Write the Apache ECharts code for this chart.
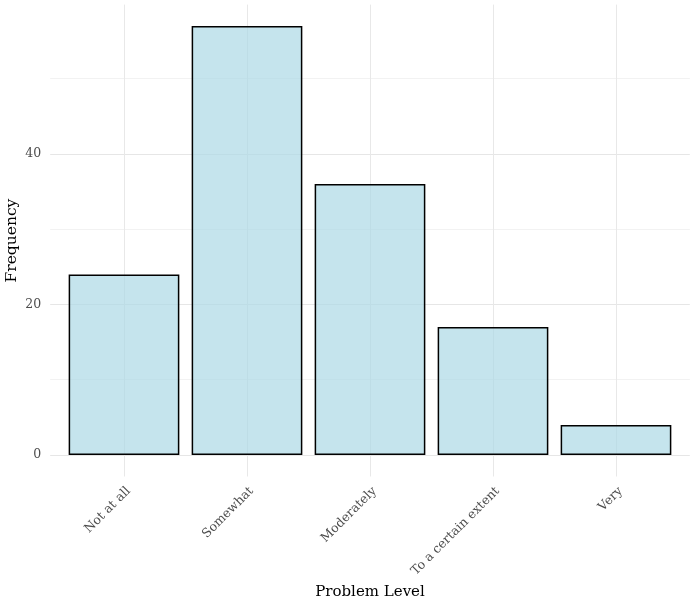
<!DOCTYPE html>
<html>
<head>
<meta charset="utf-8">
<script src="https://cdn.jsdelivr.net/npm/echarts@6/dist/echarts.min.js"></script>
<style>html,body{margin:0;padding:0;background:#fff;}#c{width:692px;height:601px;}</style>
</head>
<body>
<div id="c"></div>
<script>
const categories = ['Not at all', 'Somewhat', 'Moderately', 'To a certain extent', 'Very'];
const frequency = [24, 57, 36, 17, 4];
const yTickLabels = [0, 20, 40];

const FONT = 'DejaVu Serif';
const chart = echarts.init(document.getElementById('c'), null, {renderer: 'canvas'});
const yMax = 57 * 1.05;
const yMin = -57 * 0.05;

chart.setOption({
  animation: false,
  backgroundColor: '#ffffff',
  grid: [
    {left: 50.2, right: 2.2, top: 4.6, bottom: 146, containLabel: false, outerBoundsMode: 'none'},
    {left: 62.5, right: 14.5, top: 4.6, bottom: 124.5, containLabel: false, outerBoundsMode: 'none'}
  ],
  xAxis: [
    {gridIndex: 0, type: 'value', show: false, min: 0, max: 1},
    {
      gridIndex: 1, type: 'category', data: categories, boundaryGap: true,
      axisLine: {show: false}, axisTick: {show: false, alignWithLabel: true},
      splitLine: {show: true, alignWithLabel: true, lineStyle: {color: '#e8e8e8', width: 1}},
      axisLabel: {rotate: 45, margin: 8, verticalAlign: 'top', align: 'right', color: '#4d4d4d', fontFamily: FONT, fontSize: 12.5, interval: 0},
      name: 'Problem Level', nameLocation: 'middle', nameGap: 107,
      nameTextStyle: {color: '#000', fontFamily: FONT, fontSize: 15}
    }
  ],
  yAxis: [
    {
      gridIndex: 0, type: 'value', min: 0, max: yMax, interval: 10,
      axisLine: {show: false}, axisTick: {show: false},
      splitLine: {show: true, showMaxLine: false, lineStyle: {color: ['#e6e6e6', '#f2f2f2'], width: 1}},
      axisLabel: {
        showMaxLabel: false, margin: 9, color: '#4d4d4d', fontFamily: FONT, fontSize: 12.5,
        formatter: v => (yTickLabels.indexOf(v) >= 0 ? String(v) : '')
      }
    },
    {
      gridIndex: 1, type: 'value', min: yMin, max: yMax,
      axisLine: {show: false}, axisTick: {show: false}, axisLabel: {show: false}, splitLine: {show: false},
      name: 'Frequency', nameLocation: 'middle', nameGap: 43, nameRotate: 90,
      nameTextStyle: {color: '#000', fontFamily: FONT, fontSize: 15.5}
    }
  ],
  series: [{
    type: 'bar', xAxisIndex: 1, yAxisIndex: 1, data: frequency, barWidth: '90%',
    itemStyle: {color: 'rgba(173,216,230,0.7)', borderColor: '#000', borderWidth: 1.5}
  }]
});
</script>
</body>
</html>
